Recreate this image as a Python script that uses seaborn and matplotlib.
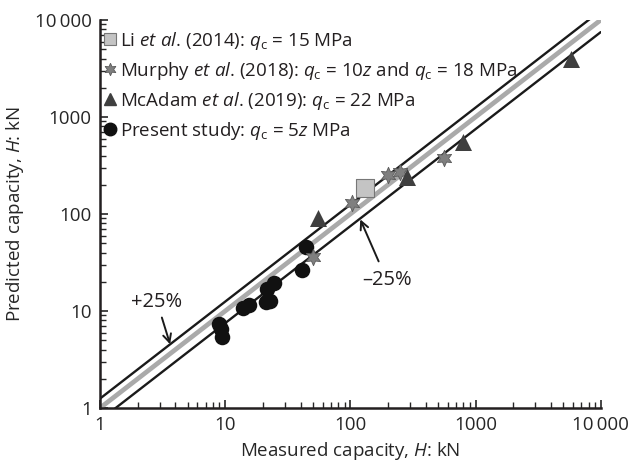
import numpy as np
import pandas as pd
import matplotlib
matplotlib.use("Agg")
import matplotlib.pyplot as plt
from matplotlib.lines import Line2D
import seaborn as sns

# data (kN)
li_x = [132]
li_y = [185]

murphy_x = [50, 104, 200, 250, 560]
murphy_y = [36, 130, 250, 270, 380]

mcadam_x = [55, 285, 790, 5750]
mcadam_y = [90, 240, 550, 4000]

present_x = [9.0, 9.3, 9.5, 13.8, 15.5, 21.0, 23.0, 21.5, 24.5, 41.0, 44.0]
present_y = [7.3, 6.6, 5.4, 10.8, 11.5, 12.5, 12.8, 17.0, 19.5, 26.5, 46.0]

line_x = [1, 10000]
factors = [1.0, 1.25, 0.75]

tick_vals = [1, 10, 100, 1000, 10000]
tick_labels = ["1", "10", "100", "1000", "10\u2009000"]

sns.set_theme(style="white")
plt.rcParams.update({
    "font.family": ["Open Sans", "DejaVu Sans"],
    "mathtext.fontset": "custom",
    "mathtext.rm": "Open Sans",
    "mathtext.it": "Open Sans:italic",
    "mathtext.bf": "Open Sans:bold",
    "font.size": 13.5,
    "axes.edgecolor": "#231f20",
    "text.color": "#231f20",
})

fig = plt.figure(figsize=(6.31, 4.73), dpi=100)
ax = fig.add_axes([0.1585, 0.1374, 0.7935, 0.8203])

# reference lines: 1:1 and +/-25 %
lx = np.array(line_x, dtype=float)
ax.plot(lx, factors[0] * lx, color="#aaaaaa", lw=3.4, zorder=2)
ax.plot(lx, factors[1] * lx, color="#1a1a1a", lw=1.7, zorder=2)
ax.plot(lx, factors[2] * lx, color="#1a1a1a", lw=1.7, zorder=2)

star = (6, 1, 0)
sns.scatterplot(x=present_x, y=present_y, marker="o", s=125, color="#111111",
                edgecolor="#111111", linewidth=0, ax=ax, zorder=3)
sns.scatterplot(x=murphy_x, y=murphy_y, marker=star, s=140, color="#7f7f7f",
                edgecolor="#5a5a5a", linewidth=0.6, ax=ax, zorder=4)
sns.scatterplot(x=mcadam_x, y=mcadam_y, marker="^", s=150, color="#3f3f3f",
                edgecolor="#3f3f3f", linewidth=0, ax=ax, zorder=4)
sns.scatterplot(x=li_x, y=li_y, marker="s", s=180, color="#c4c4c4",
                edgecolor="#777777", linewidth=0.8, ax=ax, zorder=4)

ax.set_xscale("log")
ax.set_yscale("log")
ax.set_xlim(1, 10000)
ax.set_ylim(1, 10000)
ax.set_xticks(tick_vals)
ax.set_xticklabels(tick_labels)
ax.set_yticks(tick_vals)
ax.set_yticklabels(tick_labels)
ax.tick_params(which="major", direction="in", length=6, width=1.2, labelsize=13.5,
               left=True, bottom=True, pad=6)
ax.tick_params(which="minor", direction="in", length=4, width=1.0,
               left=True, bottom=True)
for s in ["top", "right"]:
    ax.spines[s].set_visible(False)
for s in ["left", "bottom"]:
    ax.spines[s].set_linewidth(1.8)

ax.set_xlabel("Measured capacity, $H$: kN", fontsize=13.5, labelpad=4)
ax.set_ylabel("Predicted capacity, $H$: kN", fontsize=13.5, labelpad=6)

ax.annotate("+25%", xy=(3.63, 4.54), xytext=(2.85, 12.5), ha="center", va="center",
            fontsize=14.5, arrowprops=dict(arrowstyle="->", color="#1a1a1a", lw=1.4,
                                           shrinkA=2, shrinkB=0))
ax.annotate("\u201325%", xy=(120, 88), xytext=(195, 21), ha="center", va="center",
            fontsize=14.5, arrowprops=dict(arrowstyle="->", color="#1a1a1a", lw=1.4,
                                           shrinkA=4, shrinkB=0))

handles = [
    Line2D([0], [0], marker="s", ls="", ms=9, mfc="#c4c4c4", mec="#777777", mew=0.8),
    Line2D([0], [0], marker=star, ls="", ms=9, mfc="#7f7f7f", mec="#5a5a5a", mew=0.6),
    Line2D([0], [0], marker="^", ls="", ms=9, mfc="#3f3f3f", mec="#3f3f3f"),
    Line2D([0], [0], marker="o", ls="", ms=9, mfc="#111111", mec="#111111"),
]
labels = [
    "Li $\\mathit{et\\ al}$. (2014): $q_\\mathrm{c}$ = 15 MPa",
    "Murphy $\\mathit{et\\ al}$. (2018): $q_\\mathrm{c}$ = 10$z$ and $q_\\mathrm{c}$ = 18 MPa",
    "McAdam $\\mathit{et\\ al}$. (2019): $q_\\mathrm{c}$ = 22 MPa",
    "Present study: $q_\\mathrm{c}$ = 5$z$ MPa",
]
ax.legend(handles, labels, loc="upper left", bbox_to_anchor=(-0.025, 1.008),
          frameon=False, fontsize=13.5, handletextpad=0.05, labelspacing=0.42,
          borderaxespad=0.3, handlelength=1.0)

fig.savefig("out.png", dpi=100)
